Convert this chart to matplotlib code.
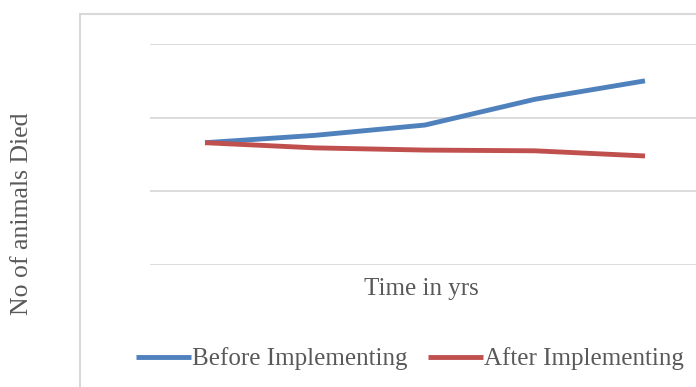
import matplotlib.pyplot as plt
from matplotlib.patches import Rectangle

# yearly counts before / after implementation (no numeric axis in the chart)
years = [1, 2, 3, 4, 5]
before = [1.66, 1.76, 1.90, 2.25, 2.50]
after = [1.66, 1.59, 1.56, 1.55, 1.48]

blue = '#4f81bd'
red = '#c0504d'
grid = '#d9d9d9'
txt = '#595959'

plt.rcParams['font.family'] = ['Liberation Serif', 'DejaVu Serif']

W, H = 696, 387
fig = plt.figure(figsize=(W / 100, H / 100), dpi=100)

# outer chart border (runs off the right and bottom edges)
fig.patches.append(Rectangle((80 / W, -0.1), 1.0, 1 - 14 / H + 0.1,
                             transform=fig.transFigure, fill=False,
                             edgecolor=grid, linewidth=1.5))

ax = fig.add_axes([150 / W, (H - 265) / H, 550 / W, (265 - 44) / H])
ax.plot(years, before, color=blue, lw=3.5, solid_capstyle='butt',
        label='Before Implementing')
ax.plot(years, after, color=red, lw=3.5, solid_capstyle='butt',
        label='After Implementing')

ax.set_xlim(0.5, 5.5)
ax.set_ylim(0, 3)
ax.set_yticks([0, 1, 2, 3])
ax.set_xticks([])
ax.yaxis.grid(True, color=grid, lw=1.3)
ax.set_axisbelow(True)
ax.tick_params(left=False, labelleft=False)
for s in ax.spines.values():
    s.set_visible(False)

fig.text(421 / W, 1 - 289 / H, 'Time in yrs', ha='center', va='center',
         fontsize=18, color=txt)
fig.text(22 / W, 1 - 214 / H, 'No of animals Died', ha='center', va='center',
         rotation=90, fontsize=18.5, color=txt)

fig.legend(loc='center', bbox_to_anchor=(410 / W, 1 - 359 / H), ncol=2,
           frameon=False, fontsize=18, labelcolor=txt, handlelength=2.2,
           handletextpad=0.05, columnspacing=0.8)

fig.savefig('out.png', dpi=100)
